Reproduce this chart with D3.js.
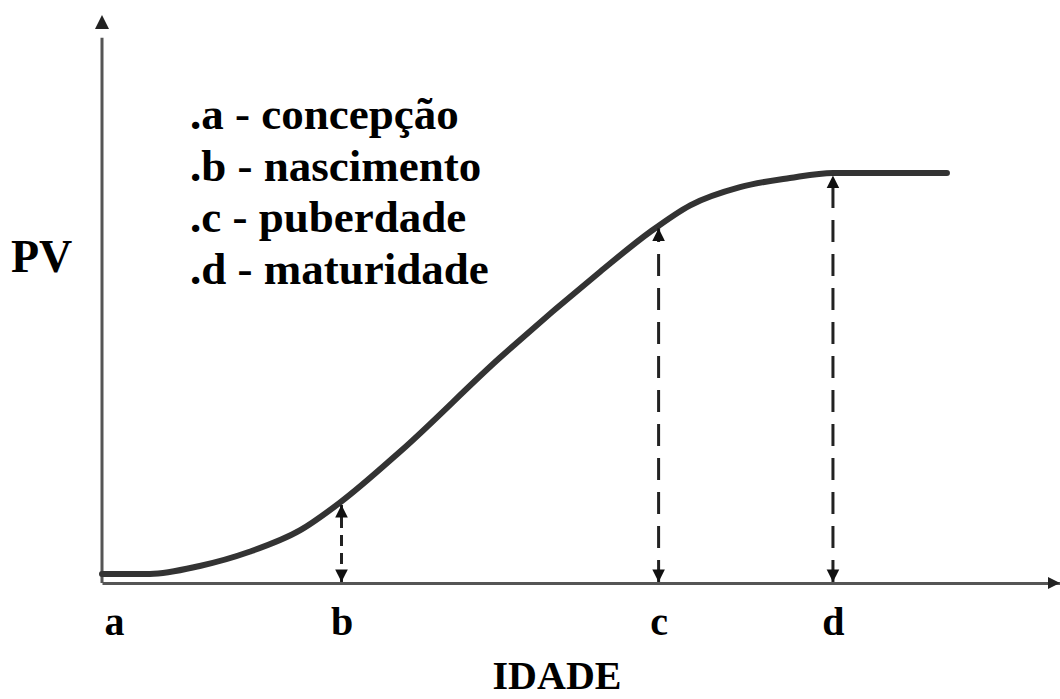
<!DOCTYPE html>
<html>
<head>
<meta charset="utf-8">
<script src="https://cdn.jsdelivr.net/npm/d3@7"></script>
<style>
  body { margin: 0; background: #fff; }
  text { font-family: "Liberation Serif", "DejaVu Serif", serif; font-weight: bold; fill: #000; }
</style>
</head>
<body>
<script>
// growth curve (age and weight in arbitrary units 0..100)
var idade = [0, 5.0, 10.2, 15.4, 20.7, 24.8, 31.1, 41.5, 52.0, 57.2, 61.4, 66.6, 71.8, 76.3, 88.2];
var pv    = [1.6, 1.6, 3.0, 5.5, 9.3, 14.1, 23.1, 39.6, 54.8, 61.8, 66.5, 69.7, 71.3, 72.2, 72.2];

// stages on the age axis and the weight reached at each one
var fases = ['a', 'b', 'c', 'd'];
var faseIdade = [0, 25.0, 58.1, 76.3];
var fasePv = [null, 14.1, 62.8, 72.1];

var legenda = ['.a - concepção', '.b - nascimento', '.c - puberdade', '.d - maturidade'];

var width = 1060, height = 699;

var svg = d3.select('body').append('svg')
    .attr('width', width)
    .attr('height', height);

var x = d3.scaleLinear().domain([0, 100]).range([102, 1060]);
var y = d3.scaleLinear().domain([0, 100]).range([583, 15]);

var defs = svg.append('defs');

// small arrow heads for the dashed lines
function arrowMarker(id, orient) {
    defs.append('marker')
        .attr('id', id)
        .attr('viewBox', '0 0 10 10')
        .attr('refX', 10)
        .attr('refY', 5)
        .attr('markerWidth', 4.2)
        .attr('markerHeight', 4.8)
        .attr('orient', orient)
        .attr('markerUnits', 'strokeWidth')
        .append('path')
        .attr('d', 'M0,0 L10,5 L0,10 Z')
        .attr('fill', '#111');
}
arrowMarker('head', 'auto');
arrowMarker('tail', 'auto-start-reverse');

// axes
var xAxis = d3.axisBottom(x)
    .tickValues(faseIdade)
    .tickFormat(function (d, i) { return fases[i]; })
    .tickSize(0)
    .tickPadding(24);

var gx = svg.append('g')
    .attr('transform', 'translate(0,' + y(0) + ')')
    .call(xAxis);

gx.select('.domain').attr('stroke', '#555').attr('stroke-width', 3);
gx.selectAll('.tick text')
    .attr('font-size', 40)
    .attr('font-family', '"Liberation Serif", serif')
    .attr('font-weight', 'bold')
    .attr('fill', '#000')
    .attr('dy', '0.71em');
gx.selectAll('.tick').filter(function (d) { return d === 0; })
    .select('text').attr('dx', 12);

svg.append('line')
    .attr('x1', x(0)).attr('y1', y(0))
    .attr('x2', x(0)).attr('y2', y(96))
    .attr('stroke', '#555').attr('stroke-width', 3);

// axis arrow heads
svg.append('path')
    .attr('d', 'M' + x(0) + ',' + y(100) + ' l-7,14 l14,0 Z')
    .attr('fill', '#222');
svg.append('path')
    .attr('d', 'M' + x(100) + ',' + y(0) + ' l-12,-6 l0,12 Z')
    .attr('fill', '#222');

// growth curve
var line = d3.line()
    .x(function (d, i) { return x(idade[i]); })
    .y(function (d) { return y(d); })
    .curve(d3.curveMonotoneX);

svg.append('path')
    .datum(pv)
    .attr('d', line)
    .attr('fill', 'none')
    .attr('stroke', '#333')
    .attr('stroke-width', 6)
    .attr('stroke-linecap', 'round');

// dashed double arrows from axis to the curve
fases.forEach(function (f, i) {
    if (fasePv[i] === null) return;
    svg.append('line')
        .attr('x1', x(faseIdade[i])).attr('y1', y(0) - 1)
        .attr('x2', x(faseIdade[i])).attr('y2', y(fasePv[i]) + 2)
        .attr('stroke', '#222')
        .attr('stroke-width', 3)
        .attr('stroke-dasharray', i === 1 ? '11,7' : '22,12')
        .attr('marker-start', 'url(#tail)')
        .attr('marker-end', 'url(#head)');
});

// legend
svg.append('g').selectAll('text')
    .data(legenda)
    .enter().append('text')
    .attr('x', 190)
    .attr('y', function (d, i) { return 129 + i * 51.5; })
    .attr('font-size', 45)
    .text(function (d) { return d; });

svg.append('text')
    .attr('x', 11).attr('y', 272)
    .attr('font-size', 46)
    .text('PV');

svg.append('text')
    .attr('x', 557).attr('y', 689)
    .attr('text-anchor', 'middle')
    .attr('font-size', 40)
    .text('IDADE');
</script>
</body>
</html>
